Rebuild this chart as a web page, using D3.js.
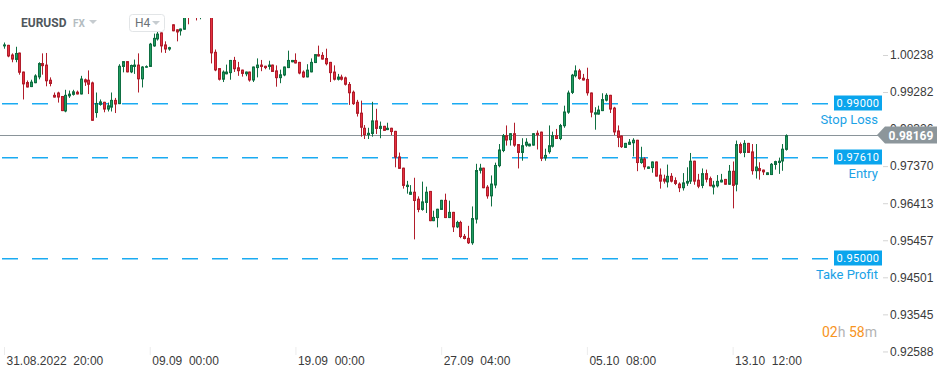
<!DOCTYPE html>
<html lang="en">
<head>
<meta charset="UTF-8">
<title>EURUSD H4</title>
<script src="https://cdn.jsdelivr.net/npm/d3@7"></script>
<style>
  body { margin: 0; background: #fff; }
  svg { display: block; font-family: Roboto, "Noto Sans", sans-serif; }
  .yaxis text { font-size: 12px; fill: #3a3a3a; }
  .yaxis line { stroke: #d4d4d4; }
  .xaxis text { font-size: 12px; fill: #3a3a3a; white-space: pre; }
  .xaxis line { stroke: #ececec; }
  .domain { display: none; }
</style>
</head>
<body>
<script>
// H4 candles, 31.08.2022 20:00 .. 17.10.2022 08:00
var opens = [1.0046,1.0050,1.0025,1.0011,1.0030,0.9981,0.9954,0.9941,0.9951,0.9966,
  1.0003,0.9999,0.9960,0.9921,0.9927,0.9918,0.9878,0.9917,0.9921,0.9929,
  0.9922,0.9961,0.9960,0.9953,0.9874,0.9895,0.9903,0.9883,0.9888,0.9908,
  0.9897,0.9993,1.0008,0.9979,0.9993,0.9999,0.9961,0.9991,0.9993,1.0046,
  1.0064,1.0082,1.0051,1.0038,1.0103,1.0090,1.0085,1.0089,1.0135,1.0128,
  1.0165,1.0140,1.0160,1.0170,1.0162,1.0032,0.9990,0.9960,0.9974,0.9977,
  1.0011,0.9992,0.9986,0.9974,0.9981,0.9958,0.9990,0.9999,0.9996,0.9993,
  0.9999,0.9984,0.9964,0.9971,0.9990,1.0005,1.0011,1.0006,0.9981,0.9966,
  0.9979,1.0003,1.0026,1.0024,1.0016,1.0006,0.9981,0.9960,0.9968,0.9966,
  0.9949,0.9929,0.9903,0.9875,0.9836,0.9817,0.9820,0.9855,0.9833,0.9841,
  0.9830,0.9836,0.9828,0.9762,0.9733,0.9683,0.9663,0.9671,0.9653,0.9624,
  0.9642,0.9673,0.9595,0.9603,0.9624,0.9650,0.9603,0.9619,0.9579,0.9593,
  0.9557,0.9552,0.9538,0.9599,0.9725,0.9733,0.9684,0.9659,0.9687,0.9737,
  0.9776,0.9817,0.9804,0.9822,0.9794,0.9771,0.9790,0.9788,0.9790,0.9823,
  0.9826,0.9757,0.9773,0.9787,0.9817,0.9807,0.9840,0.9875,0.9926,0.9969,
  0.9984,0.9965,0.9962,0.9927,0.9870,0.9870,0.9879,0.9906,0.9921,0.9888,
  0.9829,0.9816,0.9784,0.9792,0.9796,0.9805,0.9745,0.9757,0.9730,0.9732,
  0.9749,0.9715,0.9705,0.9695,0.9712,0.9701,0.9692,0.9680,0.9692,0.9697,
  0.9751,0.9702,0.9686,0.9719,0.9706,0.9682,0.9685,0.9695,0.9704,0.9689,
  0.9725,0.9689,0.9794,0.9771,0.9797,0.9775,0.9724,0.9732,0.9728,0.9714,
  0.9714,0.9740,0.9745,0.9749,0.9779];
var highs = [1.0056,1.0050,1.0028,1.0045,1.0030,0.9981,0.9958,0.9960,0.9974,1.0005,
  1.0028,1.0029,0.9966,0.9927,0.9929,0.9918,0.9934,0.9932,0.9934,0.9932,
  0.9970,0.9963,0.9984,0.9955,0.9927,0.9909,0.9903,0.9901,0.9927,0.9913,
  1.0000,1.0008,1.0008,0.9999,1.0012,1.0028,0.9995,0.9997,1.0055,1.0079,
  1.0085,1.0082,1.0059,1.0045,1.0103,1.0090,1.0092,1.0145,1.0160,1.0175,
  1.0190,1.0175,1.0185,1.0187,1.0169,1.0038,0.9990,0.9984,0.9999,1.0011,
  1.0019,1.0006,0.9986,0.9981,0.9981,0.9994,1.0015,1.0011,0.9996,1.0009,
  0.9999,0.9997,0.9986,0.9994,1.0035,1.0011,1.0028,1.0006,0.9984,1.0000,
  1.0015,1.0026,1.0048,1.0031,1.0040,1.0006,0.9997,0.9975,0.9973,0.9968,
  0.9954,0.9932,0.9908,0.9906,0.9843,0.9836,0.9903,0.9885,0.9852,0.9841,
  0.9849,0.9836,0.9828,0.9772,0.9733,0.9699,0.9688,0.9707,0.9659,0.9697,
  0.9684,0.9673,0.9622,0.9627,0.9650,0.9666,0.9648,0.9619,0.9596,0.9596,
  0.9562,0.9583,0.9633,0.9743,0.9743,0.9733,0.9688,0.9713,0.9746,0.9794,
  0.9820,0.9842,0.9822,0.9849,0.9794,0.9809,0.9809,0.9795,0.9822,0.9829,
  0.9826,0.9782,0.9842,0.9826,0.9833,0.9846,0.9893,0.9932,0.9975,0.9997,
  0.9988,0.9975,0.9991,0.9927,0.9889,0.9893,0.9925,0.9925,0.9921,0.9890,
  0.9842,0.9816,0.9797,0.9807,0.9809,0.9805,0.9787,0.9760,0.9736,0.9749,
  0.9749,0.9731,0.9715,0.9741,0.9719,0.9708,0.9695,0.9719,0.9734,0.9771,
  0.9751,0.9717,0.9731,0.9728,0.9710,0.9699,0.9714,0.9717,0.9704,0.9740,
  0.9749,0.9803,0.9798,0.9804,0.9797,0.9794,0.9794,0.9747,0.9728,0.9721,
  0.9745,0.9751,0.9759,0.9794,0.9819];
var lows = [1.0040,1.0018,1.0005,1.0005,0.9973,0.9909,0.9940,0.9941,0.9951,0.9961,
  0.9973,0.9943,0.9943,0.9914,0.9901,0.9879,0.9876,0.9913,0.9919,0.9922,
  0.9922,0.9944,0.9923,0.9854,0.9862,0.9893,0.9876,0.9878,0.9878,0.9874,
  0.9897,0.9979,0.9979,0.9977,0.9975,0.9927,0.9940,0.9991,0.9993,1.0045,
  1.0061,1.0030,1.0029,1.0035,1.0085,1.0059,1.0074,1.0089,1.0103,1.0125,
  1.0113,1.0116,1.0145,1.0150,1.0002,0.9982,0.9958,0.9954,0.9974,0.9960,
  0.9980,0.9970,0.9968,0.9969,0.9955,0.9954,0.9966,0.9982,0.9987,0.9986,
  0.9980,0.9942,0.9951,0.9969,0.9990,1.0005,1.0002,0.9974,0.9965,0.9966,
  0.9979,1.0003,1.0020,1.0012,0.9997,0.9954,0.9958,0.9958,0.9958,0.9945,
  0.9895,0.9895,0.9865,0.9813,0.9807,0.9807,0.9813,0.9820,0.9809,0.9828,
  0.9830,0.9817,0.9734,0.9730,0.9679,0.9666,0.9663,0.9548,0.9618,0.9622,
  0.9616,0.9595,0.9595,0.9579,0.9624,0.9603,0.9603,0.9567,0.9577,0.9551,
  0.9548,0.9536,0.9534,0.9589,0.9718,0.9680,0.9653,0.9633,0.9680,0.9734,
  0.9773,0.9790,0.9790,0.9787,0.9731,0.9751,0.9787,0.9788,0.9790,0.9780,
  0.9750,0.9751,0.9769,0.9785,0.9807,0.9804,0.9836,0.9872,0.9923,0.9966,
  0.9960,0.9958,0.9919,0.9863,0.9831,0.9870,0.9879,0.9904,0.9874,0.9817,
  0.9786,0.9784,0.9784,0.9792,0.9762,0.9724,0.9743,0.9728,0.9730,0.9720,
  0.9710,0.9679,0.9692,0.9682,0.9695,0.9688,0.9670,0.9674,0.9686,0.9691,
  0.9689,0.9680,0.9680,0.9695,0.9685,0.9664,0.9682,0.9695,0.9689,0.9689,
  0.9628,0.9672,0.9769,0.9760,0.9771,0.9715,0.9705,0.9702,0.9714,0.9714,
  0.9714,0.9728,0.9717,0.9725,0.9777];
var closes = [1.0051,1.0020,1.0012,1.0029,0.9978,0.9948,0.9940,0.9955,0.9971,1.0003,
  0.9995,0.9956,0.9949,0.9914,0.9914,0.9879,0.9921,0.9924,0.9930,0.9922,
  0.9963,0.9953,0.9947,0.9854,0.9900,0.9904,0.9883,0.9894,0.9908,0.9896,
  0.9996,1.0008,0.9979,0.9998,0.9999,0.9961,0.9994,0.9995,1.0053,1.0068,
  1.0079,1.0046,1.0038,1.0044,1.0085,1.0082,1.0092,1.0135,1.0128,1.0165,
  1.0140,1.0160,1.0170,1.0162,1.0028,0.9984,0.9960,0.9981,0.9981,1.0011,
  0.9987,0.9982,0.9975,0.9981,0.9958,0.9994,0.9999,0.9993,0.9990,0.9999,
  0.9980,0.9964,0.9974,0.9994,1.0011,1.0011,1.0002,0.9976,0.9966,0.9986,
  1.0006,1.0026,1.0020,1.0012,1.0000,0.9977,0.9960,0.9968,0.9960,0.9947,
  0.9925,0.9897,0.9872,0.9836,0.9817,0.9823,0.9855,0.9833,0.9841,0.9828,
  0.9836,0.9825,0.9759,0.9730,0.9686,0.9689,0.9671,0.9647,0.9624,0.9646,
  0.9671,0.9595,0.9606,0.9627,0.9650,0.9603,0.9619,0.9579,0.9593,0.9554,
  0.9549,0.9538,0.9603,0.9727,0.9733,0.9680,0.9659,0.9692,0.9740,0.9780,
  0.9817,0.9803,0.9822,0.9790,0.9771,0.9791,0.9800,0.9795,0.9822,0.9817,
  0.9756,0.9766,0.9791,0.9817,0.9807,0.9843,0.9878,0.9927,0.9973,0.9984,
  0.9962,0.9958,0.9925,0.9875,0.9876,0.9883,0.9910,0.9921,0.9883,0.9824,
  0.9810,0.9786,0.9797,0.9800,0.9805,0.9745,0.9757,0.9734,0.9736,0.9749,
  0.9710,0.9697,0.9697,0.9712,0.9697,0.9691,0.9680,0.9695,0.9699,0.9751,
  0.9697,0.9684,0.9719,0.9702,0.9685,0.9689,0.9699,0.9702,0.9689,0.9725,
  0.9686,0.9794,0.9771,0.9797,0.9771,0.9724,0.9736,0.9724,0.9721,0.9721,
  0.9743,0.9750,0.9751,0.9782,0.98169];

// time axis: one label every 38 bars
var timeTickIdx = [0, 38, 76, 114, 152, 190];
var timeTickLabels = ["31.08.2022  20:00", "09.09  00:00", "19.09  00:00", "27.09  04:00", "05.10  08:00", "13.10  12:00"];

var priceTicks = [1.00238, 0.99282, 0.98326, 0.97370, 0.96413, 0.95457, 0.94501, 0.93545, 0.92588];

// order levels
var levelNames = ["Stop Loss", "Entry", "Take Profit"];
var levelValues = [0.99000, 0.97610, 0.95000];
var lastPrice = 0.98169;

var width = 949, height = 378;
var svg = d3.select("body").append("svg")
    .attr("width", width)
    .attr("height", height);

svg.append("defs").append("clipPath").attr("id", "plotClip")
  .append("rect").attr("x", 0).attr("y", 18).attr("width", 810).attr("height", 330);

var x = d3.scaleLinear().domain([0, opens.length - 1]).range([4, 786.3]);
var y = d3.scaleLinear().domain([0.91903, 1.01657]).range([height, 0]);

var bars = d3.range(opens.length).map(function(i) {
  return { i: i, o: opens[i], h: highs[i], l: lows[i], c: closes[i] };
});

var upFill = "#1f9c60", upEdge = "#0f6f42";
var downFill = "#e6303f", downEdge = "#b11d2b";

// order level lines go under the candles
var cyan = "#1aabf2";
svg.selectAll("line.level")
  .data(levelValues)
  .enter().append("line")
  .attr("class", "level")
  .attr("x1", 2).attr("x2", 829)
  .attr("y1", function(d) { return Math.round(y(d)) + 0.7; })
  .attr("y2", function(d) { return Math.round(y(d)) + 0.7; })
  .attr("stroke", cyan)
  .attr("stroke-width", 1.4)
  .attr("stroke-dasharray", "16,14");

// current price line
var yp = Math.round(y(lastPrice)) + 0.5;
svg.append("line")
  .attr("x1", 0).attr("x2", 878)
  .attr("y1", yp).attr("y2", yp)
  .attr("stroke", "#8a9499").attr("stroke-width", 1);

var plot = svg.append("g").attr("clip-path", "url(#plotClip)");

var candle = plot.selectAll("g.candle")
  .data(bars)
  .enter().append("g")
  .attr("class", "candle");

candle.append("line")
  .attr("x1", function(d) { return Math.round(x(d.i)) + 0.5; })
  .attr("x2", function(d) { return Math.round(x(d.i)) + 0.5; })
  .attr("y1", function(d) { return y(d.h); })
  .attr("y2", function(d) { return y(d.l); })
  .attr("stroke", function(d) { return d.c >= d.o ? upEdge : downEdge; })
  .attr("stroke-width", 1);

candle.append("rect")
  .attr("x", function(d) { return Math.round(x(d.i)) - 0.5; })
  .attr("width", 2)
  .attr("y", function(d) { return y(Math.max(d.o, d.c)) + 0.5; })
  .attr("height", function(d) { return Math.max(Math.abs(y(d.o) - y(d.c)) - 1, 0.5); })
  .attr("fill", function(d) { return d.c >= d.o ? upFill : downFill; })
  .attr("stroke", function(d) { return d.c >= d.o ? upEdge : downEdge; })
  .attr("stroke-width", 1);

// price axis
svg.append("g")
  .attr("class", "yaxis")
  .attr("transform", "translate(883,0)")
  .call(d3.axisRight(y).tickValues(priceTicks).tickSize(5).tickPadding(2).tickFormat(d3.format(".5f")));

// level tags
var tags = svg.selectAll("g.tag")
  .data(levelValues)
  .enter().append("g")
  .attr("class", "tag")
  .attr("transform", function(d) { return "translate(0," + Math.round(y(d)) + ")"; });

tags.append("rect")
  .attr("x", 834).attr("y", -7.5)
  .attr("width", 48).attr("height", 15)
  .attr("fill", "#0aa5ed");

tags.append("text")
  .attr("x", 858).attr("y", 4)
  .attr("text-anchor", "middle")
  .attr("font-size", 11)
  .attr("letter-spacing", 0.4)
  .attr("fill", "#fff")
  .text(function(d) { return d3.format(".5f")(d); });

tags.append("text")
  .attr("x", 878).attr("y", 21)
  .attr("text-anchor", "end")
  .attr("font-size", 13)
  .attr("fill", "#1ba2e6")
  .text(function(d, i) { return levelNames[i]; });

// last price tag
var tag = svg.append("g").attr("transform", "translate(0," + (yp - 0.5) + ")");
tag.append("path")
  .attr("d", "M877,0 L885,-8.5 L937,-8.5 L937,8.5 L885,8.5 Z")
  .attr("fill", "#8c969b");
tag.append("text")
  .attr("x", 911).attr("y", 4.5)
  .attr("text-anchor", "middle")
  .attr("font-size", 12)
  .attr("font-weight", "bold")
  .attr("fill", "#fff")
  .text(d3.format(".5f")(lastPrice));

// time axis
svg.append("g")
  .attr("class", "xaxis")
  .attr("transform", "translate(0,347)")
  .call(d3.axisBottom(x).tickValues(timeTickIdx).tickSize(8).tickPadding(1)
    .tickFormat(function(d, i) { return timeTickLabels[i]; }))
  .selectAll("text")
  .attr("text-anchor", "start")
  .attr("dx", 2);

// header
svg.append("text").attr("x", 21).attr("y", 27)
  .attr("font-size", 12).attr("font-weight", "bold").attr("fill", "#50575c")
  .text("EURUSD");
svg.append("text").attr("x", 73).attr("y", 27)
  .attr("font-size", 10).attr("font-weight", "bold").attr("fill", "#b4bcc1")
  .text("FX");
svg.append("path").attr("d", "M89,20 L97,20 L93,24 Z").attr("fill", "#c6ccd0");

svg.append("rect").attr("x", 129.5).attr("y", 14.5).attr("width", 35).attr("height", 17).attr("rx", 3)
  .attr("fill", "#fff").attr("stroke", "#e2e5e7");
svg.append("text").attr("x", 135).attr("y", 27)
  .attr("font-size", 12).attr("fill", "#6b7176")
  .text("H4");
svg.append("path").attr("d", "M152,21 L160,21 L156,25 Z").attr("fill", "#c6ccd0");

// candle countdown
var cd = svg.append("text").attr("x", 822).attr("y", 337).attr("font-size", 14);
cd.append("tspan").attr("fill", "#f7941d").text("02");
cd.append("tspan").attr("fill", "#b3b3b3").text("h ");
cd.append("tspan").attr("fill", "#f7941d").text("58");
cd.append("tspan").attr("fill", "#b3b3b3").text("m");
</script>
</body>
</html>
